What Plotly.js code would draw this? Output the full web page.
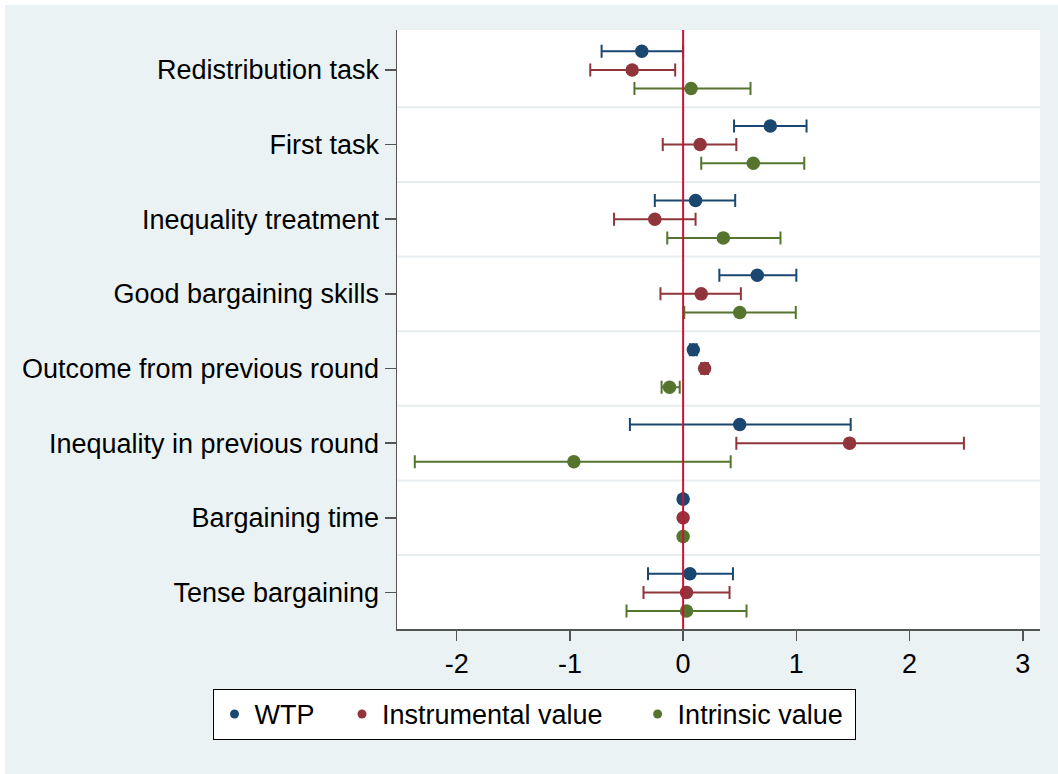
<!DOCTYPE html>
<html>
<head>
<meta charset="utf-8">
<script src="https://cdn.plot.ly/plotly-3.0.1.min.js"></script>
<style>
  html, body { margin: 0; padding: 0; background: #ffffff; }
  #chart { position: absolute; left: 5px; top: 5px; width: 1053px; height: 769px; }
</style>
</head>
<body>
<div id="chart"></div>
<script>
const categories = ["Redistribution task", "First task", "Inequality treatment", "Good bargaining skills",
  "Outcome from previous round", "Inequality in previous round", "Bargaining time", "Tense bargaining"];
const seriesNames = ["WTP", "Instrumental value", "Intrinsic value"];

const wtpEst = [-0.365, 0.77, 0.11, 0.655, 0.09, 0.50, 0.0, 0.06];
const wtpLo  = [-0.72, 0.45, -0.25, 0.32, 0.06, -0.47, -0.004, -0.31];
const wtpHi  = [0.00, 1.09, 0.46, 1.00, 0.12, 1.48, 0.004, 0.44];

const insEst = [-0.45, 0.15, -0.25, 0.16, 0.19, 1.47, 0.0, 0.03];
const insLo  = [-0.82, -0.18, -0.61, -0.20, 0.16, 0.47, -0.004, -0.35];
const insHi  = [-0.07, 0.47, 0.11, 0.51, 0.22, 2.48, 0.004, 0.41];

const intEst = [0.07, 0.62, 0.355, 0.50, -0.12, -0.965, 0.0, 0.03];
const intLo  = [-0.43, 0.16, -0.14, 0.01, -0.19, -2.37, -0.004, -0.50];
const intHi  = [0.595, 1.07, 0.86, 0.995, -0.03, 0.42, 0.004, 0.56];

const xTickVals = [-2, -1, 0, 1, 2, 3];
const xTickText = ["-2", "-1", "0", "1", "2", "3"];

const colors = ["#1A476F", "#90353B", "#55752F"];
const offsets = [-0.25, 0, 0.25];
const legendPad = [3, 4, 1];
const FONT = "Liberation Sans, Arial, sans-serif";

const est = [wtpEst, insEst, intEst];
const lo = [wtpLo, insLo, intLo];
const hi = [wtpHi, insHi, intHi];

const traces = [];
for (let s = 0; s < 3; s++) {
  traces.push({
    type: "scatter",
    mode: "markers",
    x: est[s],
    y: categories.map((c, i) => i + offsets[s]),
    showlegend: false,
    marker: { color: colors[s], size: 13.5, symbol: "circle" },
    error_x: {
      type: "data",
      symmetric: false,
      array: est[s].map((v, i) => hi[s][i] - v),
      arrayminus: est[s].map((v, i) => v - lo[s][i]),
      color: colors[s],
      thickness: 2,
      width: 6.5
    },
    hoverinfo: "skip"
  });
}
for (let s = 0; s < 3; s++) {
  traces.push({
    type: "scatter",
    mode: "markers",
    x: [null],
    y: [null],
    name: seriesNames[s] + "\u00A0".repeat(legendPad[s]),
    marker: { color: colors[s], size: 9, symbol: "circle" },
    showlegend: true
  });
}

const shapes = [];
for (let i = 0; i < categories.length - 1; i++) {
  shapes.push({
    type: "line", xref: "paper", yref: "y",
    x0: 0, x1: 1, y0: i + 0.5, y1: i + 0.5,
    line: { color: "#E6EDEF", width: 2 },
    layer: "below"
  });
}
shapes.push({
  type: "line", xref: "x", yref: "paper",
  x0: 0, x1: 0, y0: 0, y1: 1,
  line: { color: "#CC1133", width: 2 },
  layer: "above"
});

const layout = {
  width: 1053,
  height: 769,
  paper_bgcolor: "#EAF2F3",
  plot_bgcolor: "#FFFFFF",
  margin: { l: 392, r: 18, t: 25, b: 145 },
  font: { family: FONT, size: 27, color: "#000000" },
  showlegend: true,
  xaxis: {
    range: [-2.527, 3.152],
    tickmode: "array",
    tickvals: xTickVals,
    ticktext: xTickText,
    ticks: "outside",
    ticklen: 10,
    tickwidth: 1.5,
    tickcolor: "#555555",
    showline: true,
    linecolor: "#555555",
    linewidth: 1.5,
    showgrid: false,
    zeroline: false,
    tickfont: { family: FONT, size: 27, color: "#000000" }
  },
  yaxis: {
    range: [7.49, -0.535],
    tickmode: "array",
    tickvals: categories.map((c, i) => i),
    ticktext: categories,
    ticks: "outside",
    ticklen: 11,
    tickwidth: 1.5,
    tickcolor: "#555555",
    showline: true,
    linecolor: "#555555",
    linewidth: 1.5,
    showgrid: false,
    zeroline: false,
    tickfont: { family: FONT, size: 27, color: "#000000" }
  },
  legend: {
    orientation: "h",
    xref: "paper", yref: "paper",
    x: 0.2146, xanchor: "center",
    y: -0.1, yanchor: "top",
    bgcolor: "#FFFFFF",
    bordercolor: "#000000",
    borderwidth: 1,
    font: { family: FONT, size: 27, color: "#000000" }
  },
  shapes: shapes
};

Plotly.newPlot("chart", traces, layout, { displayModeBar: false, staticPlot: true });
</script>
</body>
</html>
